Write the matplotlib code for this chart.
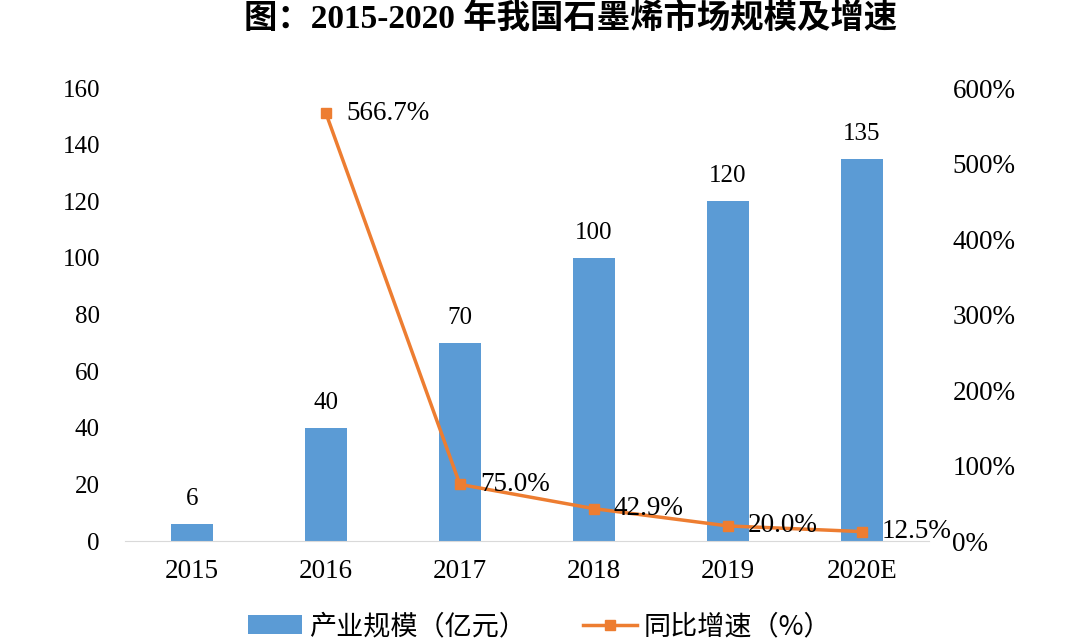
import matplotlib.pyplot as plt
import numpy as np

# Chart data
years = ["2015", "2016", "2017", "2018", "2019", "2020E"]
scale = [6, 40, 70, 100, 120, 135]            # 产业规模（亿元）
growth_years = ["2016", "2017", "2018", "2019", "2020E"]
growth = [566.7, 75.0, 42.9, 20.0, 12.5]      # 同比增速（%）

bar_color = "#5B9BD5"
line_color = "#ED7D31"
serif = ["Liberation Serif", "Noto Sans CJK SC"]
cjk = ["Noto Sans CJK SC", "Liberation Serif"]

fig = plt.figure(figsize=(10.8, 6.43), dpi=100)
ax = fig.add_axes([0.1157, 0.1586, 0.7443, 0.7045])
ax2 = ax.twinx()

x = np.arange(len(years))
ax.bar(x, scale, width=0.31, color=bar_color, zorder=2, label="产业规模（亿元）")
ax.set_xlim(-0.5, len(years) - 0.5)
ax.set_ylim(0, 160)
ax.set_yticks(range(0, 161, 20))
ax.set_xticks(x)
ax.set_xticklabels(years, family=serif, fontsize=19.5)
for lab in ax.get_yticklabels():
    lab.set_family(serif)
    lab.set_fontsize(18)
ax.tick_params(axis="both", length=0)
ax.tick_params(axis="y", pad=18)
ax.tick_params(axis="x", pad=13)

for xi, v in zip(x, scale):
    ax.annotate(str(v), (xi, v), xytext=(0, 10), textcoords="offset points",
                ha="center", va="bottom", family=serif, fontsize=18)

gx = [years.index(y) for y in growth_years]
ax2.plot(gx, growth, color=line_color, lw=2.5, marker="s", markersize=7,
         zorder=3, label="同比增速（%）")
ax2.set_ylim(0, 600)
ax2.set_yticks(range(0, 601, 100))
ax2.set_yticklabels([f"{v}%" for v in range(0, 601, 100)], family=serif, fontsize=19.5)
ax2.tick_params(axis="y", length=0, pad=17)

for xi, v in zip(gx, growth):
    ax2.text(xi + 0.15, v, f"{v:.1f}%", ha="left", va="center", family=serif, fontsize=19.5)

for a in (ax, ax2):
    for s in ("top", "left", "right"):
        a.spines[s].set_visible(False)
ax.spines["bottom"].set_color("#D9D9D9")
ax2.spines["bottom"].set_visible(False)

fig.text(0.528, 0.969, "图：2015-2020 年我国石墨烯市场规模及增速", ha="center", va="center",
         family=serif, fontsize=24, fontweight="bold")

h1, l1 = ax.get_legend_handles_labels()
h2, l2 = ax2.get_legend_handles_labels()
fig.legend(h1 + h2, l1 + l2, loc="center", bbox_to_anchor=(0.5, 0.025), ncol=2,
           frameon=False, prop={"family": cjk, "size": 19.5}, handlelength=2.0,
           columnspacing=2.1, handletextpad=0.25)

fig.savefig("out.png", dpi=100)
